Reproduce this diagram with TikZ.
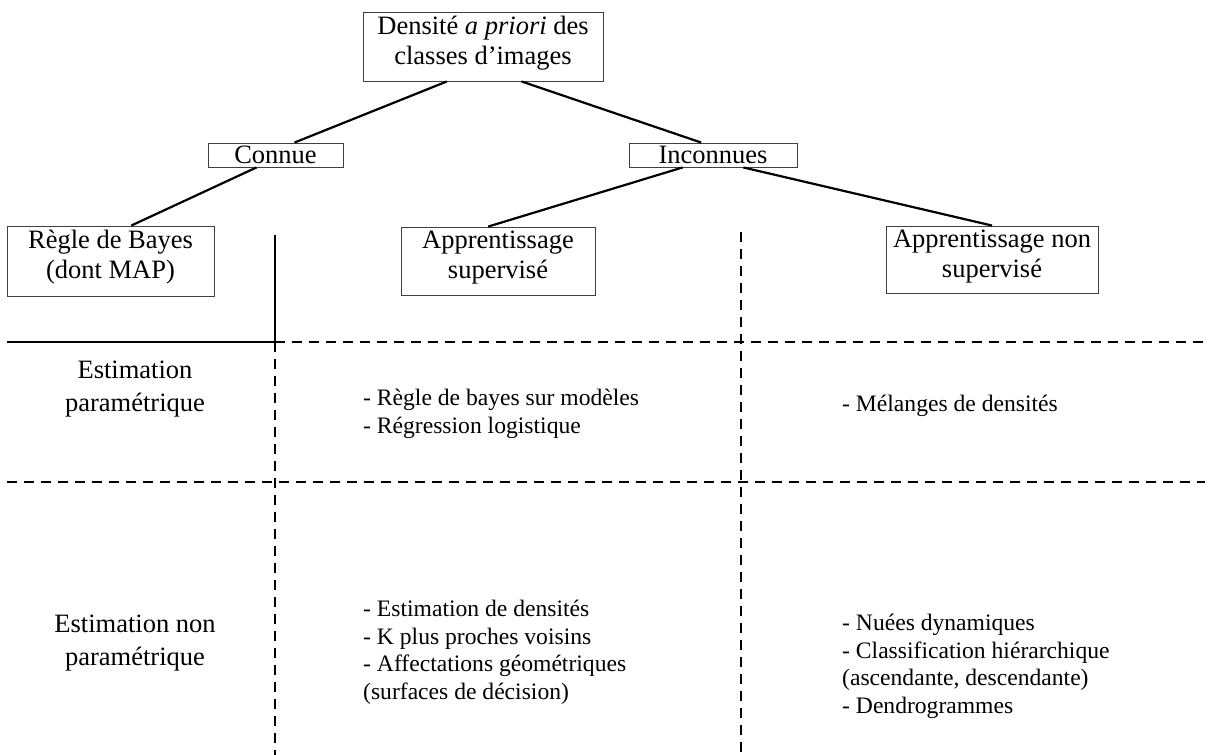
\documentclass[tikz,border=0pt]{standalone}
\usepackage{fontspec}
\setmainfont{Liberation Serif}
\usetikzlibrary{calc}
\tikzset{
  cadre/.style={draw=black!75, line width=0.9pt, inner sep=0pt},
  titre/.style={inner sep=0pt, align=center, font=\fontsize{26.5}{30}\selectfont},
  rubrique/.style={inner sep=0pt, align=center, font=\fontsize{26.5}{32.5}\selectfont},
  liste/.style={inner sep=0pt, align=left, anchor=north west, font=\fontsize{23.6}{27.6}\selectfont},
  lien/.style={line width=2.2pt},
  pointille/.style={line width=2pt, dash pattern=on 10pt off 7pt},
}
\begin{document}
\begin{tikzpicture}[x=1pt,y=-1pt]
\useasboundingbox (0,0) rectangle (1211,755);
% arbre
\node[cadre, minimum width=240pt, minimum height=69pt] (densite) at (483,46.5) {};
\node[titre, anchor=north] (densitetxt) at ($(densite.north)+(0,4)$) {Densité \textit{a priori} des\\classes d’images};
\node[cadre, titre, minimum width=135pt, minimum height=24pt] (connue) at (275.5,155) {Connue};
\node[cadre, titre, minimum width=168pt, minimum height=24pt] (inconnues) at (713,155) {Inconnues};
\node[cadre, minimum width=207pt, minimum height=70pt] (bayes) at (110.5,261) {};
\node[titre, anchor=north] (bayestxt) at ($(bayes.north)+(0,4)$) {Règle de Bayes\\(dont MAP)};
\node[cadre, minimum width=194pt, minimum height=68pt] (sup) at (498,261) {};
\node[titre, anchor=north] (suptxt) at ($(sup.north)+(0,4)$) {Apprentissage\\supervisé};
\node[cadre, minimum width=212pt, minimum height=67pt] (nonsup) at (992,259.5) {};
\node[titre, anchor=north] (nonsuptxt) at ($(nonsup.north)+(0,4)$) {Apprentissage non\\supervisé};
\draw[lien] ($(densite.south west)!.35!(densite.south east)$) -- ($(connue.north west)!.64!(connue.north east)$);
\draw[lien] ($(densite.south west)!.66!(densite.south east)$) -- ($(inconnues.north west)!.43!(inconnues.north east)$);
\draw[lien] ($(connue.south west)!.36!(connue.south east)$) -- ($(bayes.north west)!.6!(bayes.north east)$);
\draw[lien] ($(inconnues.south west)!.32!(inconnues.south east)$) -- ($(sup.north west)!.45!(sup.north east)$);
\draw[lien] ($(inconnues.south west)!.68!(inconnues.south east)$) -- (nonsup.north);
% tableau
\coordinate (coin) at (275,342);
\draw[lien] (275,235) -- (coin) -- (7,342);
\draw[pointille] (coin) -- (1205,342);
\draw[pointille] (coin) -- (275,755);
\draw[pointille] (741,232) -- (741,755);
\draw[pointille] (7,482) -- (1205,482);
\node[rubrique] (param) at (135,389) {Estimation\\paramétrique};
\node[liste] (supparam) at (363,389) {- Règle de bayes sur modèles\\- Régression logistique};
\node[liste] (nonsupparam) at (842,395) {- Mélanges de densités};
\node[rubrique] (nonparam) at (135,643) {Estimation non\\paramétrique};
\node[liste] (supnonparam) at (363,600) {- Estimation de densités\\- K plus proches voisins\\- Affectations géométriques\\(surfaces de décision)};
\node[liste] (nonsupnonparam) at (842,614) {- Nuées dynamiques\\- Classification hiérarchique\\(ascendante, descendante)\\- Dendrogrammes};
\end{tikzpicture}
\end{document}
